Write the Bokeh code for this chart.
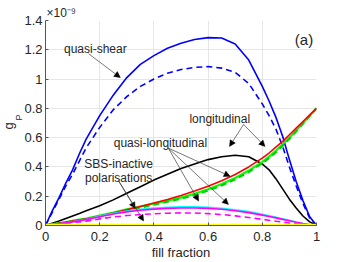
from bokeh.plotting import figure
from bokeh.models import Range1d, FixedTicker, Label, Arrow, NormalHead, Title
from bokeh.embed import file_html
from bokeh.resources import INLINE

# ---- data (g_P in units of 1e-9) ----
fill = [0, 0.025, 0.05, 0.075, 0.1, 0.125, 0.15, 0.175, 0.2, 0.25, 0.3, 0.35, 0.4, 0.45, 0.5,
        0.55, 0.6, 0.65, 0.7, 0.75, 0.8, 0.825, 0.85, 0.875, 0.9, 0.925, 0.95, 0.975, 1.0]

quasi_shear = [0, 0.10, 0.19, 0.29, 0.38, 0.49, 0.59, 0.67, 0.75, 0.89, 1.01, 1.10, 1.16, 1.21, 1.245,
               1.27, 1.283, 1.28, 1.24, 1.13, 0.95, 0.85, 0.74, 0.61, 0.45, 0.30, 0.17, 0.06, 0]
quasi_shear_dash = [0, 0.09, 0.18, 0.27, 0.35, 0.44, 0.53, 0.60, 0.67, 0.79, 0.88, 0.95, 1.00, 1.04, 1.065,
                    1.08, 1.085, 1.075, 1.045, 0.97, 0.83, 0.75, 0.66, 0.54, 0.40, 0.27, 0.15, 0.05, 0]
quasi_long = [0, 0.015, 0.03, 0.047, 0.065, 0.082, 0.10, 0.117, 0.135, 0.175, 0.22, 0.265, 0.31, 0.35, 0.39,
              0.42, 0.45, 0.47, 0.48, 0.47, 0.42, 0.38, 0.32, 0.25, 0.18, 0.12, 0.065, 0.025, 0]
long_red = [0, 0.007, 0.015, 0.022, 0.03, 0.037, 0.045, 0.055, 0.065, 0.085, 0.108, 0.13, 0.153, 0.178, 0.205,
            0.235, 0.268, 0.305, 0.348, 0.40, 0.46, 0.495, 0.535, 0.575, 0.62, 0.665, 0.71, 0.755, 0.80]
long_green = [0, 0.008, 0.016, 0.024, 0.032, 0.04, 0.048, 0.058, 0.068, 0.088, 0.11, 0.13, 0.15, 0.17, 0.19,
              0.217, 0.248, 0.283, 0.325, 0.375, 0.435, 0.47, 0.51, 0.555, 0.60, 0.65, 0.70, 0.75, 0.80]
long_green_dash = [0, 0.007, 0.014, 0.021, 0.028, 0.036, 0.044, 0.053, 0.062, 0.082, 0.102, 0.122, 0.142, 0.162, 0.183,
                   0.208, 0.238, 0.273, 0.315, 0.365, 0.425, 0.46, 0.50, 0.545, 0.592, 0.642, 0.695, 0.748, 0.80]
cyan_pol = [0, 0.006, 0.012, 0.019, 0.026, 0.034, 0.043, 0.053, 0.064, 0.083, 0.099, 0.111, 0.119, 0.124, 0.127,
            0.127, 0.124, 0.118, 0.108, 0.095, 0.077, 0.067, 0.057, 0.046, 0.035, 0.024, 0.014, 0.006, 0]
magenta_pol = [0, 0.006, 0.012, 0.018, 0.025, 0.032, 0.04, 0.05, 0.06, 0.078, 0.093, 0.104, 0.112, 0.117, 0.12,
               0.12, 0.117, 0.111, 0.101, 0.088, 0.071, 0.062, 0.052, 0.042, 0.032, 0.022, 0.013, 0.005, 0]
magenta_dash = [0, 0.005, 0.01, 0.015, 0.02, 0.025, 0.03, 0.037, 0.045, 0.058, 0.068, 0.075, 0.08, 0.084, 0.086,
                0.085, 0.081, 0.075, 0.066, 0.055, 0.042, 0.036, 0.029, 0.023, 0.017, 0.011, 0.006, 0.002, 0]
inactive = [0] * len(fill)

x_ticks = [0, 0.2, 0.4, 0.6, 0.8, 1]
x_tick_labels = ["0", "0.2", "0.4", "0.6", "0.8", "1"]
y_ticks = [0, 0.2, 0.4, 0.6, 0.8, 1, 1.2, 1.4]
y_tick_labels = ["0", "0.2", "0.4", "0.6", "0.8", "1", "1.2", "1.4"]

FONT = "Liberation Sans"
TXT = "#262626"

p = figure(width=349, height=262, output_backend="svg", toolbar_location=None,
           x_range=Range1d(0, 1), y_range=Range1d(0, 1.4),
           min_border_left=45, min_border_right=33, min_border_top=20, min_border_bottom=36)
p.outline_line_color = None
p.background_fill_color = "white"
p.border_fill_color = "white"

# scale factor label above the axis
p.title.text = "\u00d710\u207b\u2079"
p.title.align = "left"
p.title.offset = 1
p.title.standoff = 1
p.title.text_font = FONT
p.title.text_font_size = "12px"
p.title.text_font_style = "normal"
p.title.text_color = TXT

for ax, ticks, labels in ((p.xaxis[0], x_ticks, x_tick_labels), (p.yaxis[0], y_ticks, y_tick_labels)):
    ax.ticker = FixedTicker(ticks=ticks)
    ax.major_label_overrides = {t: l for t, l in zip(ticks, labels)}
    ax.major_tick_in = 3
    ax.major_tick_out = 0
    ax.minor_tick_line_color = None
    ax.axis_line_color = "#555555"
    ax.major_tick_line_color = "#555555"
    ax.major_label_text_font = FONT
    ax.major_label_text_font_size = "13px"
    ax.major_label_text_color = TXT

p.xaxis.major_label_standoff = 6
p.yaxis.major_label_standoff = 3

p.xaxis.axis_label = "fill fraction"
p.xaxis.axis_label_text_font = FONT
p.xaxis.axis_label_text_font_size = "13px"
p.xaxis.axis_label_text_font_style = "normal"
p.xaxis.axis_label_text_color = TXT
p.xaxis.axis_label_standoff = 1

# y label g_P (subscript drawn as a second, smaller title)
p.add_layout(Title(text="P", align="left", offset=105, standoff=-4, text_line_height=0.7, text_font=FONT,
                   text_font_size="9px", text_font_style="normal", text_color=TXT), "left")
p.add_layout(Title(text="g", align="left", offset=96, standoff=-5, text_line_height=0.7, text_font=FONT,
                   text_font_size="13px", text_font_style="normal", text_color=TXT), "left")

p.xgrid.ticker = FixedTicker(ticks=x_ticks)
p.ygrid.ticker = FixedTicker(ticks=y_ticks)
p.grid.grid_line_color = "#e6e6e6"
p.grid.grid_line_width = 1

# ---- curves ----
p.line(fill, quasi_shear, line_color="#0000ff", line_width=1.6)
p.line(fill, quasi_shear_dash, line_color="#0000ff", line_width=1.6, line_dash="6 4")
p.line(fill, quasi_long, line_color="black", line_width=1.6)
p.line(fill, long_green, line_color="#00ff00", line_width=2.2)
p.line(fill, long_green_dash, line_color="#00d000", line_width=2.0, line_dash="6 4")
p.line(fill, long_red, line_color="#ff0000", line_width=1.6)
p.line(fill, cyan_pol, line_color="#00ffff", line_width=1.6)
p.line(fill, magenta_pol, line_color="#ff00ff", line_width=1.6)
p.line(fill, magenta_dash, line_color="#ff00ff", line_width=1.6, line_dash="6 4")
p.line(fill, inactive, line_color="#ffff00", line_width=3.5)

# ---- annotations ----
def lab(x, y, t, size="12px", align="center"):
    p.add_layout(Label(x=x, y=y, text=t, text_font=FONT, text_font_size=size, text_color=TXT,
                       text_align=align, text_baseline="alphabetic"))

lab(0.184, 1.207, "quasi-shear")
lab(0.643, 0.725, "longitudinal")
lab(0.424, 0.561, "quasi-longitudinal")
lab(0.27, 0.419, "SBS-inactive")
lab(0.27, 0.323, "polarisations")
lab(0.954, 1.27, "(a)", size="15px")

arrows = [
    (0.159, 1.173, 0.276, 1.01),
    (0.731, 0.69, 0.679, 0.54),
    (0.731, 0.69, 0.81, 0.54),
    (0.453, 0.529, 0.681, 0.336),
    (0.453, 0.529, 0.565, 0.167),
    (0.453, 0.529, 0.675, 0.144),
    (0.269, 0.307, 0.331, 0.117),
    (0.269, 0.307, 0.362, 0.031),
]
for xs, ys, xe, ye in arrows:
    p.add_layout(Arrow(end=NormalHead(size=6, fill_color="black", line_color="black", line_width=0.5),
                       x_start=xs, y_start=ys, x_end=xe, y_end=ye,
                       line_color="#3c3c3c", line_width=0.7))

open("out.html", "w").write(file_html(p, INLINE))
